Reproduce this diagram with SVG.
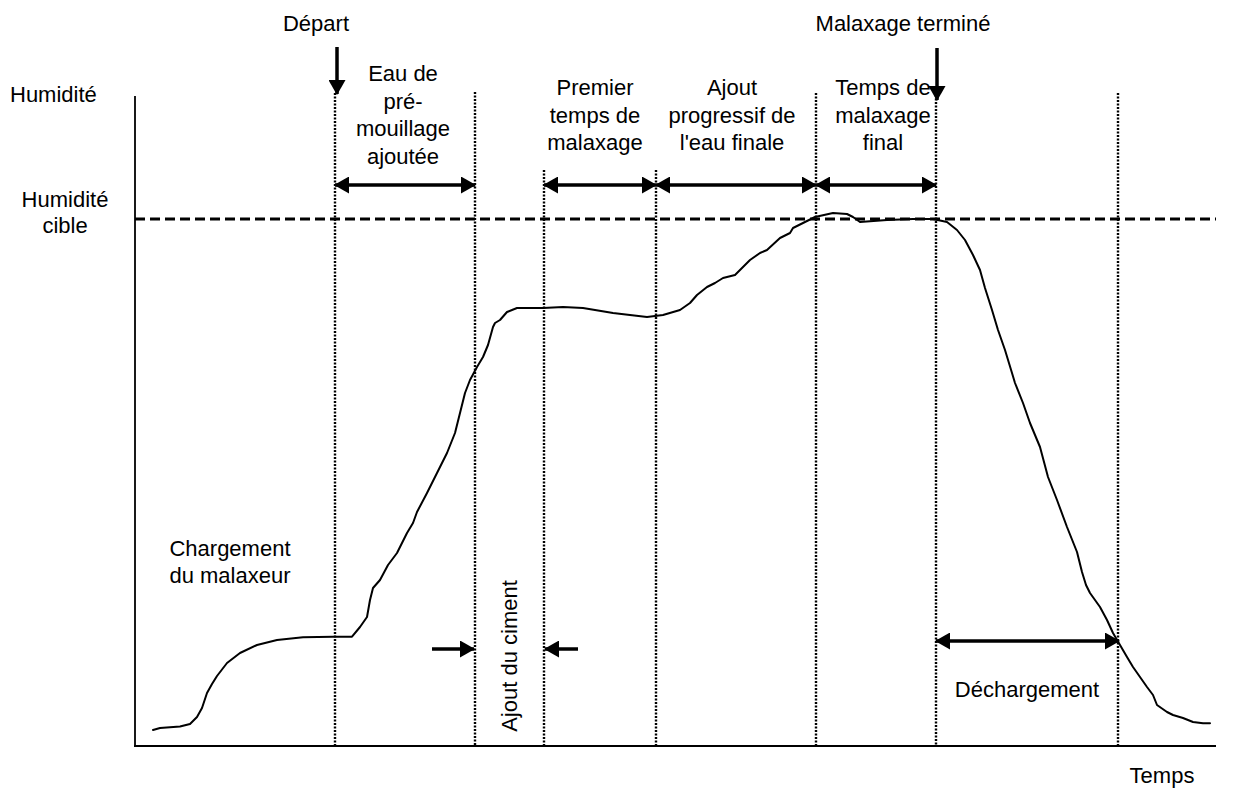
<svg xmlns="http://www.w3.org/2000/svg" width="1234" height="789" viewBox="0 0 1234 789">
  <style>
    .t { font-family: "Liberation Sans", Arial, sans-serif; font-size: 22px; fill: #000; }
    .c { text-anchor: middle; }
    .axis { stroke: #000; stroke-width: 1.8; fill: none; }
    .target { stroke: #000; stroke-width: 3; stroke-dasharray: 10 5; fill: none; }
    .bound { stroke: #000; stroke-width: 2.4; stroke-dasharray: 2 1.5; fill: none; }
    .curve { stroke: #000; stroke-width: 2; fill: none; stroke-linejoin: round; stroke-linecap: round; }
    .arr { stroke: #000; stroke-width: 3.5; fill: none; }
  </style>
  <defs>
    <marker id="head" viewBox="0 0 15 17" refX="14" refY="8.5" markerWidth="15" markerHeight="17" markerUnits="userSpaceOnUse" orient="auto-start-reverse">
      <path d="M0,0 L15,8.5 L0,17 z" fill="#000"/>
    </marker>
  </defs>

  <rect width="1234" height="789" fill="#fff"/>

  <!-- axes -->
  <g id="axes">
    <line class="axis" x1="135" y1="96" x2="135" y2="746"/>
    <line class="axis" x1="134" y1="746" x2="1216" y2="746"/>
  </g>

  <!-- target moisture level -->
  <g id="target-line">
    <line class="target" x1="135" y1="219" x2="1216" y2="219"/>
  </g>

  <!-- phase boundaries -->
  <g id="boundaries">
    <line class="bound" x1="335" y1="93" x2="335" y2="746"/>
    <line class="bound" x1="475" y1="92" x2="475" y2="746"/>
    <line class="bound" x1="544" y1="170" x2="544" y2="746"/>
    <line class="bound" x1="656" y1="170" x2="656" y2="746"/>
    <line class="bound" x1="816" y1="93" x2="816" y2="746"/>
    <line class="bound" x1="936" y1="95" x2="936" y2="746"/>
    <line class="bound" x1="1118" y1="93" x2="1118" y2="746"/>
  </g>

  <!-- moisture curve -->
  <g id="curve">
    <polyline class="curve" points="153,730 160,728 180,726.5 190,724 197,717 202,708 207,693 212,684 217,676 227,663 240,653 257,645 277,640 303,637.3 333,636.7 352,636.7 360,627 367,617 370,600 373,588 380,580 388,565 397,553 407,533 413,523 417,512 427,493 437,473 447,453 455,433 460,413 465,393 470,380 477,367 483,357 488,345 493,327 495,323 500,320 507,312 517,308 543,308 563,307 583,308 613,313 647,317 663,315 680,310 690,303 697,295 707,287 715,283 723,278 735,275 750,260 760,253 767,250 780,238 790,233 793,228 803,223 815,217 833,213 847,214 853,217 860,222 887,220 913,219 933,219 947,222 957,230 965,240 973,255 980,270 985,288 992,310 998,330 1005,350 1012,373 1015,383 1023,403 1030,423 1040,447 1048,477 1057,500 1067,527 1077,552 1082,572 1086,585 1090,593 1100,607 1107,620 1113,633 1120,645 1127,657 1133,667 1140,677 1147,687 1153,695 1157,705 1167,712 1173,715 1183,718 1193,722 1203,723.3 1210,723.3"/>
  </g>

  <!-- connectors: event and duration arrows -->
  <g id="connectors">
    <line class="arr" x1="337" y1="47" x2="337" y2="94" marker-end="url(#head)"/>
    <line class="arr" x1="937" y1="48" x2="937" y2="100" marker-end="url(#head)"/>
    <line class="arr" x1="335" y1="185" x2="475" y2="185" marker-start="url(#head)" marker-end="url(#head)"/>
    <line class="arr" x1="544" y1="185" x2="656" y2="185" marker-start="url(#head)" marker-end="url(#head)"/>
    <line class="arr" x1="656" y1="185" x2="816" y2="185" marker-start="url(#head)" marker-end="url(#head)"/>
    <line class="arr" x1="816" y1="185" x2="936" y2="185" marker-start="url(#head)" marker-end="url(#head)"/>
    <line class="arr" x1="936" y1="641" x2="1119" y2="641" marker-start="url(#head)" marker-end="url(#head)"/>
    <line class="arr" x1="432" y1="649" x2="474" y2="649" marker-end="url(#head)"/>
    <line class="arr" x1="578" y1="649" x2="545" y2="649" marker-end="url(#head)"/>
  </g>

  <!-- labels -->
  <g id="label-humidite">
    <text class="t" x="10" y="102">Humidité</text>
  </g>
  <g id="label-cible">
    <text class="t c" x="65" y="207">Humidité</text>
    <text class="t c" x="65" y="233">cible</text>
  </g>
  <g id="label-depart">
    <text class="t c" x="316" y="31">Départ</text>
  </g>
  <g id="label-termine">
    <text class="t c" x="903" y="31">Malaxage terminé</text>
  </g>
  <g id="label-premouillage">
    <text class="t c" x="403" y="81">Eau de</text>
    <text class="t c" x="403" y="108.5">pré-</text>
    <text class="t c" x="403" y="136">mouillage</text>
    <text class="t c" x="403" y="163.5">ajoutée</text>
  </g>
  <g id="label-premier">
    <text class="t c" x="595" y="95">Premier</text>
    <text class="t c" x="595" y="122.5">temps de</text>
    <text class="t c" x="595" y="150">malaxage</text>
  </g>
  <g id="label-progressif">
    <text class="t c" x="732" y="95">Ajout</text>
    <text class="t c" x="732" y="122.5">progressif de</text>
    <text class="t c" x="732" y="150">l'eau finale</text>
  </g>
  <g id="label-final">
    <text class="t c" x="883" y="95">Temps de</text>
    <text class="t c" x="883" y="122.5">malaxage</text>
    <text class="t c" x="883" y="150">final</text>
  </g>
  <g id="label-chargement">
    <text class="t c" x="230" y="556">Chargement</text>
    <text class="t c" x="230" y="583">du malaxeur</text>
  </g>
  <g id="label-ciment">
    <text class="t c" transform="translate(517,656) rotate(-90)">Ajout du ciment</text>
  </g>
  <g id="label-dechargement">
    <text class="t c" x="1027" y="697">Déchargement</text>
  </g>
  <g id="label-temps">
    <text class="t c" x="1162" y="783">Temps</text>
  </g>
</svg>
